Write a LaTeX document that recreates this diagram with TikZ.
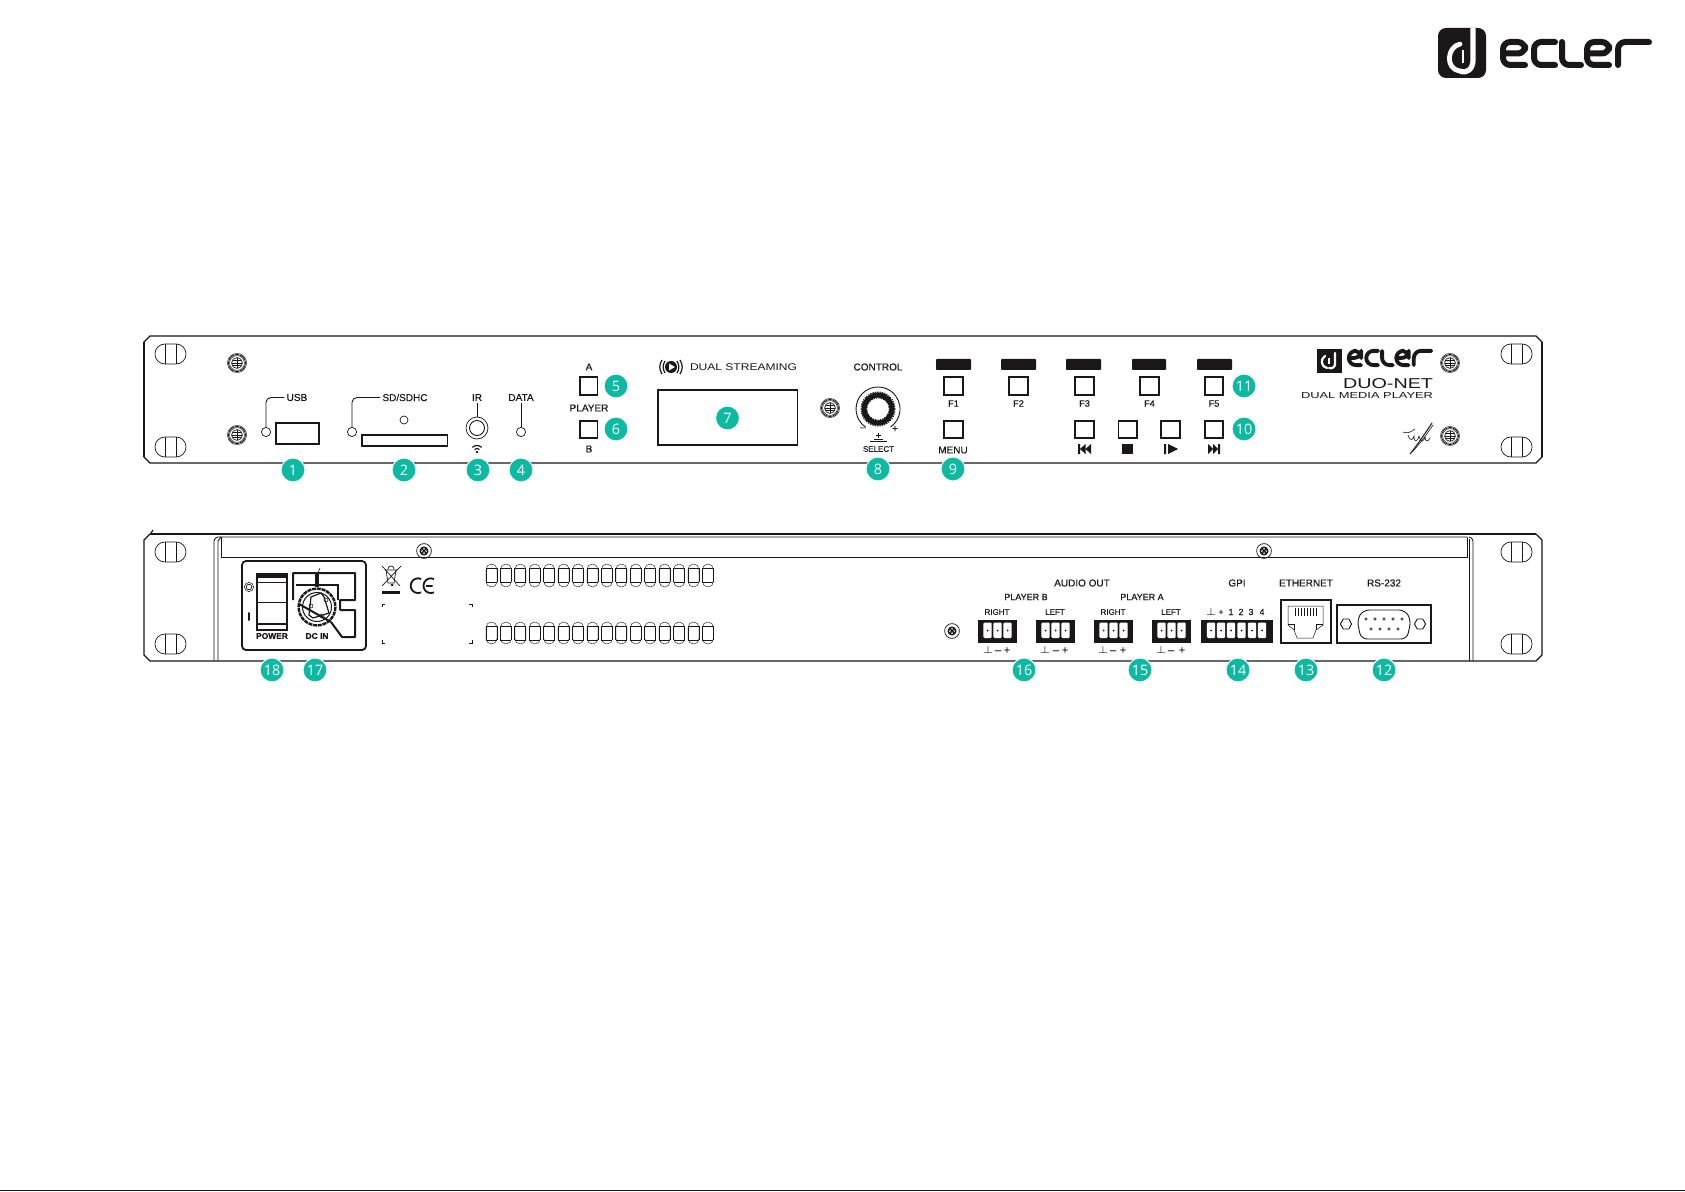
\documentclass[tikz,border=0pt]{standalone}
\usepackage{fontspec}
\usepackage{graphicx}
\setmainfont[FakeBold=0.25]{Liberation Sans}
\newfontfamily\badgefont{Open Sans}
\newfontfamily\plainfont{Liberation Sans}
\definecolor{teal1}{HTML}{0DB9A0}
\definecolor{ink}{HTML}{1A1718}
\newcommand{\txtsize}[1]{\fontsize{#1}{#1}\selectfont}
\tikzset{
  ln/.style={draw=ink,line width=.45pt},
  ln2/.style={draw=ink,line width=.65pt},
  thin1/.style={draw=ink,line width=.25pt},
  lbl/.style={inner sep=0pt,text=ink,font=\txtsize{5}},
  lblm/.style={inner sep=0pt,text=ink,font=\txtsize{4.6}},
  lbls/.style={inner sep=0pt,text=ink,font=\txtsize{4}},
  badge/.style={circle,fill=teal1,draw=white,line width=.5pt,minimum size=12pt,inner sep=0pt,text=white,font=\badgefont\txtsize{7.2}},
  keybox/.style={draw=ink,line width=.65pt,fill=white},
  ledc/.style={circle,draw=ink,line width=.35pt,fill=white,minimum size=4.6pt,inner sep=0pt},
  bar/.style={fill=ink,draw=none,rounded corners=.4pt},
}
\newcommand{\frontscrew}[2]{\begin{scope}[shift={(#1,#2)}]
  \draw[thin1,line width=.22pt] (0,0) circle (9.6) (0,0) circle (7.4);
  \draw[thin1,line width=.4pt] (0,0) circle (8.5);
  \draw[thin1,line width=.35pt] (0,0) circle (5.4);
  \draw[thin1,line width=.22pt] (-5.4,0)--(5.4,0) (0,-5.4)--(0,5.4) (-4.4,-2.6)--(4.4,-2.6) (-4.4,2.6)--(4.4,2.6);
\end{scope}}
\newcommand{\rearscrew}[2]{\begin{scope}[shift={(#1,#2)}]
  \draw[ln,line width=.35pt] (0,0) circle (7.4);
  \draw[ink,line width=.75pt] (0,0) circle (3.7);
  \draw[ink,line width=.7pt] (-2.7,-2.7)--(2.7,2.7) (-2.7,2.7)--(2.7,-2.7);
\end{scope}}
\newcommand{\rackslot}[2]{\begin{scope}[shift={(#1,#2)}]
  \draw[thin1,line width=.35pt,rounded corners=4.9pt] (0,0) rectangle (31,20);
  \draw[thin1,line width=.35pt] (10,0)--(10,20) (21,0)--(21,20);
\end{scope}}
\newcommand{\plugcell}[1]{%
  \fill[white,rounded corners=.6pt] (#1-4.2,622.5) rectangle (#1+4.2,638);
  \fill[ink] (#1,630.5) circle (1);
}
\newcommand{\eclerletters}{%
  \draw[rounded corners=3.6pt] (3,14.5)--(25,14.5)--(25,3)--(3,3)--(3,26)--(25,26);
  \draw[rounded corners=3.6pt] (55,3)--(34,3)--(34,26)--(55,26);
  \draw[rounded corners=3.6pt] (62,3)--(62,26)--(81,26);
  \draw[rounded corners=3.6pt] (87,14.5)--(109,14.5)--(109,3)--(87,3)--(87,26)--(109,26);
  \draw[rounded corners=3.6pt] (118,26)--(118,3)--(149,3);
}
\begin{document}
\begin{tikzpicture}[x=.5pt,y=-.5pt]
\useasboundingbox (0,0) rectangle (1685,1192);
\fill[white] (0,0) rectangle (1685,1192);
\coordinate (pageL) at (0,1190.5);
\coordinate (pageR) at (1685,1190.5);
\draw[ink,line width=.6pt] (pageL)--(pageR);

% ---- top right logo
\fill[ink,rounded corners=4pt] (1438,28) rectangle (1486,78);
\begin{scope}
\clip[rounded corners=4pt] (1438,28) rectangle (1486,78);
\draw[white,line width=2.6pt,line cap=round] (1473,26)--(1473,60) .. controls (1473,69) and (1467,74) .. (1460,71);
\draw[white,line width=2.4pt,line cap=round] (1460,44) .. controls (1447,47) and (1445,68) .. (1459,71);
\draw[white,line width=1.1pt] (1463,50)--(1463,63);
\end{scope}
\begin{scope}[shift={(1500,39)},draw=ink,line width=3pt,line cap=round,line join=round]
  \eclerletters
\end{scope}

% ================= FRONT PANEL
\draw[ln2] (150,336)--(1536,336)--(1542,342)--(1542,457)--(1536,463)--(150,463)--(144,457)--(144,342)--cycle;
\draw[ink,line width=.9pt] (144,342)--(144,457) (1542,342)--(1542,457);
\rackslot{155}{344}\rackslot{155}{437}\rackslot{1501}{344}\rackslot{1501}{437}
\frontscrew{237}{363}\frontscrew{237}{435}\frontscrew{1450}{363}\frontscrew{1450}{436}\frontscrew{830}{408}

\node[lbl] (lusb) at (297,397.5) {USB};
\node[ledc] (ledusb) at (266,432) {};
\draw[ln,rounded corners=2.5pt] (lusb.west)++(-2,0) -| (ledusb.north);
\draw[ln2,line width=.8pt] (276,423) rectangle (319,444);

\node[lbl] (lsd) at (405,397.5) {SD/SDHC};
\node[ledc] (ledsd) at (352,432) {};
\draw[ln,rounded corners=2.5pt] (lsd.west)++(-2,0) -| (ledsd.north);
\node[ledc,minimum size=4pt] (ledsd2) at (404,420) {};
\draw[ln2,line width=.8pt] (362,435) rectangle (447.5,446);

\node[lbl] (lir) at (477,397.5) {IR};
\node[circle,draw=ink,line width=.35pt,minimum size=11pt,inner sep=0pt] (jack) at (477,428) {};
\draw[ink,line width=.45pt] (477,428) circle (7.5);
\draw[ln] (lir.south)++(0,2) -- (jack.north);
\begin{scope}[ink,line width=.6pt]
  \draw (477-2.5,449.5) arc[start angle=-135,end angle=-45,radius=3.5];
  \draw (477-4.6,447.4) arc[start angle=-135,end angle=-45,radius=6.5];
  \fill (477,452) circle (1.4);
\end{scope}

\node[lbl] (ldata) at (521,397.5) {DATA};
\node[ledc] (leddata) at (521,432) {};
\draw[ln] (ldata.south)++(0,2) -- (leddata.north);

\node[lbl] (la) at (589,367) {A};
\draw[keybox] (580,377) rectangle (597.5,395);
\node[lbl] (lplayer) at (589,408) {PLAYER};
\draw[keybox] (580,421) rectangle (597.5,438);
\node[lbl] (lb) at (589,449) {B};

% dual streaming
\fill[ink] (671,367) circle (6);
\fill[white] (669,363.5)--(669,370.5)--(675,367)--cycle;
\begin{scope}[ink,line width=.6pt]
  \draw (662,360) .. controls (659,365) and (659,369) .. (662,374);
  \draw (665,361) .. controls (662.5,365) and (662.5,369) .. (665,373);
  \draw (680,360) .. controls (683,365) and (683,369) .. (680,374);
  \draw (677,361) .. controls (679.5,365) and (679.5,369) .. (677,373);
\end{scope}
\node[inner sep=0pt,text=ink] (lstream) at (743.5,367) {\resizebox{53.5pt}{3.4pt}{\plainfont\txtsize{5}DUAL STREAMING}};
\draw[ln2,line width=.8pt] (658,390) rectangle (797.5,445);

% control
\node[lbl] (lcontrol) at (878,367) {CONTROL};
\draw[ink,line width=2.6pt] (878,409) circle (14);
\draw[ink,line width=.5pt,dash pattern=on .6pt off .6pt] (878,409) circle (17);
\draw[ink,line width=.5pt,dash pattern=on .6pt off .6pt] (878,409) circle (11.2);
\draw[ln] (865.4,427) arc[start angle=125,end angle=415,radius=22];
\node[lbl] (lminus) at (863,429) {–};
\node[lbl] (lplus) at (895,429) {+};
\draw[ink,line width=.8pt] (870,441.5)--(887,441.5);
\draw[ink,line width=.8pt] (874,439.5)--(883,439.5);
\draw[ink,line width=.4pt] (878,433)--(878,438) (875.5,435.2)--(880.5,435.2);
\node[lbls] (lselect) at (878.5,449) {SELECT};

% F-keys
\foreach \barL/\barR/\keyL/\keyR/\name in {936/971/944/963/F1,1001/1036/1009/1028/F2,1066/1101/1075/1094/F3,1132/1166/1140/1159/F4,1197/1232/1205/1223/F5}{
  \fill[bar] (\barL,359) rectangle (\barR,370);
  \draw[keybox] (\keyL,377) rectangle (\keyR,395);
  \node[lblm] (k\name) at ({(\keyL+\keyR)/2},403.5) {\name};
}
\draw[keybox] (944,421) rectangle (963,438);
\node[lbl] (lmenu) at (953,450) {MENU};
\foreach \keyL/\keyR in {1075/1094,1118.5/1137,1161/1180,1205/1223}{
  \draw[keybox] (\keyL,421) rectangle (\keyR,438);
}
\fill[ink] (1078,444) rectangle (1080,454) (1091,444)--(1091,454)--(1085.5,449)--cycle (1085.5,444)--(1085.5,454)--(1080,449)--cycle;
\fill[ink] (1122,444) rectangle (1133,454);
\fill[ink] (1164,444) rectangle (1166,454) (1168,444)--(1168,454)--(1178,449)--cycle;
\fill[ink] (1218,444) rectangle (1220,454) (1208,444)--(1208,454)--(1213,449)--cycle (1213,444)--(1213,454)--(1218,449)--cycle;

% front logo
\fill[ink] (1317,349) rectangle (1342,373);
\draw[white,line width=1.1pt,line cap=round] (1335,353)--(1335,364) .. controls (1335,367) and (1332,369) .. (1329,368);
\draw[white,line width=1.1pt,line cap=round] (1325,356) .. controls (1320,359) and (1321,367) .. (1327,368);
\draw[white,line width=.6pt] (1329,358)--(1329,364);
\begin{scope}[shift={(1347,349)},xscale=.566,yscale=.62,draw=ink,line width=1.9pt,line cap=round,line join=round]
  \eclerletters
\end{scope}
\node[inner sep=0pt,text=ink] (lduonet) at (1388,384) {\resizebox{45pt}{5pt}{\plainfont\txtsize{5}DUO-NET}};
\node[inner sep=0pt,text=ink] (ldual) at (1367,396) {\resizebox{66pt}{3pt}{\plainfont\txtsize{5}DUAL MEDIA PLAYER}};
\begin{scope}[ink,line width=.3pt]
  \draw (1403,432) .. controls (1407,434) and (1411,432) .. (1415,429);
  \draw[line width=.5pt] (1432,423) .. controls (1426,432) and (1418,444) .. (1410,454);
  \draw (1433,425) .. controls (1427,434) and (1419,445) .. (1412,452);
  \draw (1408,435) .. controls (1410,442) and (1413,440) .. (1414,436) .. controls (1414,444) and (1418,441) .. (1419,436) .. controls (1421,444) and (1424,441) .. (1425,437) .. controls (1425,442) and (1428,442) .. (1430,438);
\end{scope}

% ================= REAR PANEL
\draw[ink,line width=.9pt] (150,534)--(1536,534);
\draw[ln2] (150,534)--(144,540)--(144,655)--(150,661)--(1536,661)--(1542,655)--(1542,540)--(1536,534);
\draw[ink,line width=.6pt] (151,533)--(153,530);
\rackslot{155}{542}\rackslot{155}{634}\rackslot{1501}{542}\rackslot{1501}{634}
\draw[ln] (214,661)--(214,541) .. controls (214,539) and (216,537) .. (218,537)--(1467,537);
\draw[ln] (218,661)--(218,541)--(221,537);
\draw[ln] (1473,661)--(1473,541) .. controls (1473,539) and (1471,537) .. (1469,537);
\draw[ln] (1469,661)--(1469,539);
\draw[ln] (221,537)--(221,557)--(1467,557)--(1467,537);
\rearscrew{424}{551}\rearscrew{1264}{551}\rearscrew{952}{631}

% power box
\draw[ink,line width=.9pt,rounded corners=2pt] (242,561) rectangle (366,650);
\draw[ink,line width=.25pt] (249,587) circle (4.6);
\draw[ink,line width=.35pt] (249,587) circle (2.8);
\draw[ink,line width=1pt,line cap=round] (249,613)--(249,620);
\draw[ink,line width=1.3pt] (257,574) rectangle (287,630);
\fill[ink] (257,574) rectangle (287,578);
\draw[ink,line width=.5pt] (257,582)--(287,582);
\draw[ink,line width=.4pt] (257,602)--(287,602);
\fill[ink] (257,623) rectangle (287,625);
\node[inner sep=0pt,text=ink,font=\bfseries\txtsize{4.2}] (lpower) at (272,636) {POWER};
\node[inner sep=0pt,text=ink,font=\bfseries\txtsize{4.2}] (ldcin) at (317,636) {DC IN};
\draw[ink,line width=1pt,line join=round] (293,600)--(293,573)--(355,573)--(355,600)--(340,600)--(340,610)--(355,610)--(355,637)--(342,637)--(331,622);
\draw[ink,line width=.8pt] (296,585)--(338,585)--(338,600);
\draw[ink,line width=1.6pt] (317,573)--(317,587);
\draw[ink,line width=.3pt] (318,573)--(320,568);
\draw[ink,line width=1.2pt,dash pattern=on 2pt off .4pt] (317,607) circle (18.4);
\draw[ink,line width=.5pt] (317,607) circle (14.5);
\draw[ink,line width=.6pt] (311,597)--(321,593)--(324,597)--(329,613)--(313,618)--(309,615)--cycle;
\draw[ink,line width=.3pt] (311,606) circle (2);
\draw[ink,line width=.3pt] (322,616) circle (2);
\draw[ink,line width=.3pt] (326,600) circle (2);
\draw[ink,line width=1pt] (299,604)--(331,622);

% recycling / CE
\begin{scope}[ink,line width=.35pt]
  \draw (386,570)--(396,570)--(394,583)--(388,583)--cycle (385,570)--(397,570) (388,569) arc[start angle=180,end angle=360,radius=3];
  \draw (382,566)--(400,586) (401,566)--(382,586);
  \fill (392,585) circle (1.5);
\end{scope}
\fill[ink] (382,590.5) rectangle (400,593.5);
\draw[ink,line width=.9pt] (421.2,579) arc[start angle=-65,end angle=-295,radius=7.4];
\draw[ink,line width=.9pt] (434,579) arc[start angle=-65,end angle=-295,radius=7.4] (426,586)--(432.5,586);
% label corner ticks
\begin{scope}[ink,line width=.3pt]
  \draw (382,607)--(382,604)--(385,604) (472,607)--(472,604)--(469,604);
  \draw (382,640)--(382,643)--(385,643) (472,640)--(472,643)--(469,643);
\end{scope}
% vents
\foreach \n in {0,...,15}{
  \pgfmathsetmacro{\cx}{491.5+14.43*\n}
  \draw[ink,line width=.22pt,rounded corners=2.7pt] (\cx-5.5,564) rectangle (\cx+5.5,587);
  \draw[ink,line width=.22pt] (\cx-5.5,568)--(\cx+5.5,568) (\cx-5.5,582)--(\cx+5.5,582);
  \draw[ink,line width=.5pt] (\cx-5.5,568)--(\cx-5.5,582) (\cx+5.5,568)--(\cx+5.5,582);
  \draw[ink,line width=.22pt,rounded corners=2.7pt] (\cx-5.5,622) rectangle (\cx+5.5,644);
  \draw[ink,line width=.22pt] (\cx-5.5,626)--(\cx+5.5,626) (\cx-5.5,640)--(\cx+5.5,640);
  \draw[ink,line width=.5pt] (\cx-5.5,626)--(\cx-5.5,640) (\cx+5.5,626)--(\cx+5.5,640);
}

% audio labels
\node[lbl] (laudio) at (1082,583) {AUDIO OUT};
\node[inner sep=0pt,text=ink,font=\txtsize{4.5}] (lpb) at (1026,597) {PLAYER B};
\node[inner sep=0pt,text=ink,font=\txtsize{4.5}] (lpa) at (1142,597) {PLAYER A};
\node[lbls] (r1) at (997,612) {RIGHT};
\node[lbls] (l1) at (1055,612) {LEFT};
\node[lbls] (r2) at (1113,612) {RIGHT};
\node[lbls] (l2) at (1171,612) {LEFT};
\foreach \xa/\xb in {978/1017,1036/1075,1094/1133,1152/1191}{
  \fill[ink] (\xa,620) rectangle (\xb,643);
  \pgfmathsetmacro{\mid}{(\xa+\xb)/2}
  \plugcell{\mid-10}\plugcell{\mid}\plugcell{\mid+10}
}
\fill[ink] (1201,620) rectangle (1273,643);
\foreach \cx in {1211,1221,1231,1241.5,1252,1262}{\plugcell{\cx}}
\foreach \cx/\sym in {988/$\perp$,998/--,1007/+,1045/$\perp$,1056/--,1065/+,1103/$\perp$,1113/--,1123/+,1161/$\perp$,1171/--,1182/+}{
  \node[inner sep=0pt,anchor=base,text=ink,font=\txtsize{5.4}] at (\cx,653.5) {\sym};
}
\node[lbl] (lgpi) at (1237,583) {GPI};
\foreach \cx/\sym in {1211/$\perp$,1221/+,1231/1,1241/2,1251/3,1262/4}{
  \node[inner sep=0pt,anchor=base,text=ink,font=\txtsize{4.4}] at (\cx,615) {\sym};
}
% ethernet
\node[lbl] (leth) at (1306,583) {ETHERNET};
\draw[ln2] (1281,600) rectangle (1331,643);
\draw[thin1] (1288,606)--(1323,606)--(1323,625)--(1316,630)--(1313,638)--(1297,638)--(1294,630)--(1288,625)--cycle;
\draw[thin1] (1288,624)--(1294,624)--(1294,630) (1323,624)--(1316,624)--(1316,630);
\foreach \n in {0,...,7}{\draw[ink,line width=.6pt] ({1295.5+\n*3},608)--({1295.5+\n*3},616);}
% rs232
\node[lbl] (lrs) at (1384,583) {RS-232};
\draw[ln2] (1337,605) rectangle (1431,643);
\foreach \cx in {1346,1420}{
  \draw[ln] (\cx-5.5,624)--(\cx-2.8,619)--(\cx+2.8,619)--(\cx+5.5,624)--(\cx+2.8,629)--(\cx-2.8,629)--cycle;
}
\draw[ln,rounded corners=3pt] (1363,610)--(1405,610)--(1411,620)--(1407,639)--(1361,639)--(1357,620)--cycle;
\foreach \cx in {1366,1375,1384,1393,1402}{\draw[thin1] (\cx,619) circle (1.2);}
\foreach \cx in {1371,1380,1389,1398}{\draw[thin1] (\cx,629) circle (1.2);}

% ================= BADGES
\node[badge] (b1) at (293,470) {1};
\node[badge] (b2) at (404,470) {2};
\node[badge] (b3) at (478,470) {3};
\node[badge] (b4) at (521,470) {4};
\node[badge] (b5) at (616,386) {5};
\node[badge] (b6) at (616,429) {6};
\node[badge] (b7) at (727.5,418) {7};
\node[badge] (b8) at (878,469) {8};
\node[badge] (b9) at (953,469) {9};
\node[badge] (b10) at (1244,429) {10};
\node[badge] (b11) at (1244,386) {11};
\node[badge] (b12) at (1384,670) {12};
\node[badge] (b13) at (1306,670) {13};
\node[badge] (b14) at (1238,670) {14};
\node[badge] (b15) at (1140,670) {15};
\node[badge] (b16) at (1024,670) {16};
\node[badge] (b17) at (315,670) {17};
\node[badge] (b18) at (272,670) {18};
\end{tikzpicture}
\end{document}
